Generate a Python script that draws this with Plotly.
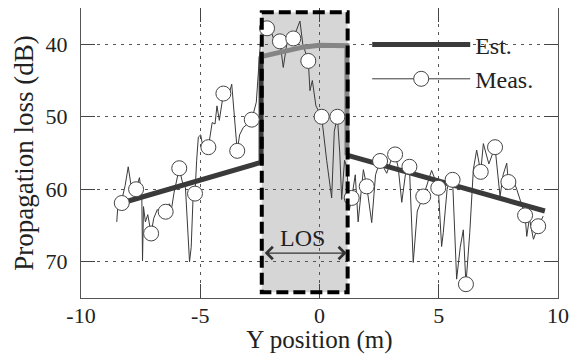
import plotly.graph_objects as go

# ---- data ----
x_ticks = [-10, -5, 0, 5, 10]
x_tick_labels = ["-10", "-5", "0", "5", "10"]
y_ticks = [40, 50, 60, 70]
y_tick_labels = ["40", "50", "60", "70"]

# Estimated propagation loss (NLOS parts dark, LOS part light)
est_left_x = [-8.3, -2.45, -2.45]
est_left_y = [61.9, 56.3, 41.7]
est_los_x = [-2.45, -1.5, -0.7, 0.0, 0.6, 1.15, 1.15]
est_los_y = [41.7, 40.9, 40.4, 40.15, 40.1, 40.2, 55.3]
est_right_x = [1.15, 9.45]
est_right_y = [55.3, 63.0]

# Measured propagation loss (raw trace)
meas_line_x = [-8.5, -8.45, -8.32, -8.15, -8.02, -7.9, -7.69, -7.55, -7.45, -7.42,
               -7.38, -7.3, -7.2, -7.06, -6.95, -6.8, -6.6, -6.45, -6.3, -6.2,
               -6.1, -5.95, -5.88, -5.75, -5.62, -5.45, -5.38, -5.3, -5.22, -5.15,
               -5.08, -4.98, -4.9, -4.8, -4.66, -4.5, -4.38, -4.3, -4.2, -4.03,
               -3.8, -3.68, -3.6, -3.52, -3.45, -3.35, -3.2, -2.95, -2.84, -2.65,
               -2.45, -2.2, -2.0, -1.8, -1.66, -1.52, -1.35, -1.1, -0.9, -0.82,
               -0.7, -0.47, -0.4, -0.3, -0.15, 0.09, 0.3, 0.51, 0.62, 0.75,
               0.85, 0.93, 1.05, 1.15, 1.25, 1.35, 1.5, 1.62, 1.84, 1.98,
               2.19, 2.35, 2.54, 2.7, 2.82, 3.0, 3.17, 3.3, 3.45, 3.6,
               3.77, 3.93, 4.1, 4.35, 4.55, 4.7, 4.98, 5.12, 5.19, 5.35,
               5.47, 5.58, 5.75, 5.9, 6.03, 6.14, 6.3, 6.45, 6.59, 6.76,
               6.87, 7.1, 7.36, 7.57, 7.7, 7.85, 7.92, 8.1, 8.27, 8.45,
               8.62, 8.69, 8.8, 8.97, 9.17, 9.38]
meas_line_y = [64.5, 62.0, 61.9, 59.5, 56.9, 59.5, 60.0, 58.4, 61.0, 69.9,
               62.4, 64.5, 63.5, 66.1, 64.0, 62.8, 63.5, 63.1, 62.0, 62.6,
               60.5, 58.0, 57.1, 59.0, 59.8, 70.0, 68.0, 61.0, 60.6, 56.0,
               52.8, 52.5, 54.0, 54.5, 54.2, 50.8, 51.0, 48.5, 50.5, 46.8,
               47.0, 45.5, 49.0, 53.0, 54.7, 52.5, 51.5, 50.8, 50.4, 48.0,
               38.5, 37.8, 38.5, 40.5, 39.6, 43.2, 39.5, 39.2, 37.5, 36.8,
               40.0, 42.3, 46.4, 45.0, 48.5, 50.0, 56.0, 61.2, 52.0, 50.0,
               55.0, 61.4, 56.0, 57.0, 62.9, 61.2, 58.0, 64.5, 57.3, 59.6,
               64.6, 58.0, 56.1, 57.0, 57.8, 56.0, 55.2, 57.0, 61.8, 58.0,
               56.9, 70.1, 63.0, 61.0, 59.0, 57.4, 59.8, 67.9, 66.0, 60.0,
               58.5, 58.7, 72.4, 68.0, 65.6, 73.1, 66.0, 57.3, 54.6, 57.6,
               53.7, 56.5, 54.2, 61.0, 58.0, 56.4, 59.0, 58.5, 60.0, 62.0,
               63.6, 66.5, 64.0, 66.9, 65.1, 63.7]

# Measured points highlighted with markers
meas_x = [-8.29, -7.69, -7.06, -6.45, -5.88, -5.22, -4.66, -4.03, -3.45, -2.84,
          -2.2, -1.66, -1.1, -0.47, 0.09, 0.75,
          1.35, 1.98, 2.54, 3.17, 3.77, 4.35, 4.98, 5.58, 6.14, 6.76,
          7.36, 7.92, 8.62, 9.17]
meas_y = [61.9, 60.0, 66.1, 63.1, 57.1, 60.6, 54.2, 46.8, 54.7, 50.4,
          37.8, 39.6, 39.2, 42.3, 50.0, 50.0,
          61.2, 59.6, 56.1, 55.2, 56.9, 61.0, 59.8, 58.7, 73.1, 57.6,
          54.2, 59.0, 63.6, 65.1]

# LOS region
los_x0, los_x1 = -2.42, 1.18
los_y0, los_y1 = 35.6, 74.2
los_arrow_y = 68.8
los_label = "LOS"

FONT = "Liberation Serif, DejaVu Serif, serif"
DARK = "#3a3a3a"
MEAS = "#3a3a3a"

fig = go.Figure()

fig.add_trace(go.Scatter(x=meas_line_x, y=meas_line_y, mode="lines",
                         line=dict(color=MEAS, width=1),
                         showlegend=False, hoverinfo="skip"))
fig.add_trace(go.Scatter(x=est_left_x, y=est_left_y, mode="lines",
                         line=dict(color=DARK, width=5), name="Est.",
                         showlegend=True))
fig.add_trace(go.Scatter(x=est_los_x, y=est_los_y, mode="lines",
                         line=dict(color="#858585", width=5), showlegend=False))
fig.add_trace(go.Scatter(x=est_right_x, y=est_right_y, mode="lines",
                         line=dict(color=DARK, width=5), showlegend=False))
fig.add_trace(go.Scatter(x=meas_x, y=meas_y, mode="markers",
                         marker=dict(symbol="circle", size=15, color="white",
                                     line=dict(color="#444444", width=1)),
                         showlegend=False))
# legend entry for measurements
fig.add_trace(go.Scatter(x=[None], y=[None], mode="lines+markers", name="Meas.",
                         line=dict(color=MEAS, width=1),
                         marker=dict(symbol="circle", size=15, color="white",
                                     line=dict(color="#444444", width=1))))

# LOS box
fig.add_shape(type="rect", xref="x", yref="y", x0=los_x0, x1=los_x1,
              y0=los_y0, y1=los_y1, fillcolor="#d6d6d6",
              line=dict(width=0), layer="below")
fig.add_shape(type="rect", xref="x", yref="y", x0=los_x0, x1=los_x1,
              y0=los_y0, y1=los_y1, fillcolor="rgba(0,0,0,0)",
              line=dict(color="black", width=4, dash="12px,5px"), layer="above")

# LOS double arrow and label
fig.add_annotation(x=los_x1 - 0.04, y=los_arrow_y, ax=los_x0 + 0.06, ay=los_arrow_y,
                   xref="x", yref="y", axref="x", ayref="y", text="",
                   showarrow=True, arrowside="end+start", arrowhead=4,
                   arrowsize=2, arrowwidth=1.2, arrowcolor="#333333")
fig.add_annotation(x=(los_x0 + los_x1) / 2 - 0.1, y=los_arrow_y, text=los_label,
                   xref="x", yref="y", showarrow=False, yanchor="bottom", yshift=0,
                   font=dict(family=FONT, size=24, color="#222222"))

axis_common = dict(
    showline=True, linecolor="#555555", linewidth=1, mirror="ticks",
    ticks="inside", ticklen=14, tickcolor="#444444", tickwidth=1,
    showgrid=True, gridcolor="#555555", gridwidth=1, griddash="3px,5px",
    zeroline=False, automargin=False,
    tickfont=dict(family=FONT, size=22, color="#222222"),
)

fig.update_xaxes(range=[-10, 10], tickvals=x_ticks, ticktext=x_tick_labels,
                 title=dict(text="Y position (m)", standoff=0,
                            font=dict(family=FONT, size=25, color="#222222")),
                 ticklabelstandoff=-2, **axis_common)
fig.update_yaxes(range=[75, 35], tickvals=y_ticks, ticktext=y_tick_labels,
                 title=dict(text="Propagation loss (dB)", standoff=4,
                            font=dict(family=FONT, size=27, color="#222222")),
                 ticklabelstandoff=8, **axis_common)

# page body has an 8px margin: figure is sized / offset to compensate
fig.update_layout(
    width=579, height=346,
    margin=dict(l=73, r=29, t=0, b=56, autoexpand=False),
    paper_bgcolor="white", plot_bgcolor="white",
    showlegend=True,
    font=dict(family=FONT),
    legend=dict(x=0.6, y=0.95, xanchor="left", yanchor="top",
                bgcolor="rgba(0,0,0,0)", itemwidth=98,
                font=dict(family=FONT, size=24, color="#222222"),
                tracegroupgap=0),
)

fig.write_html("out.html")
